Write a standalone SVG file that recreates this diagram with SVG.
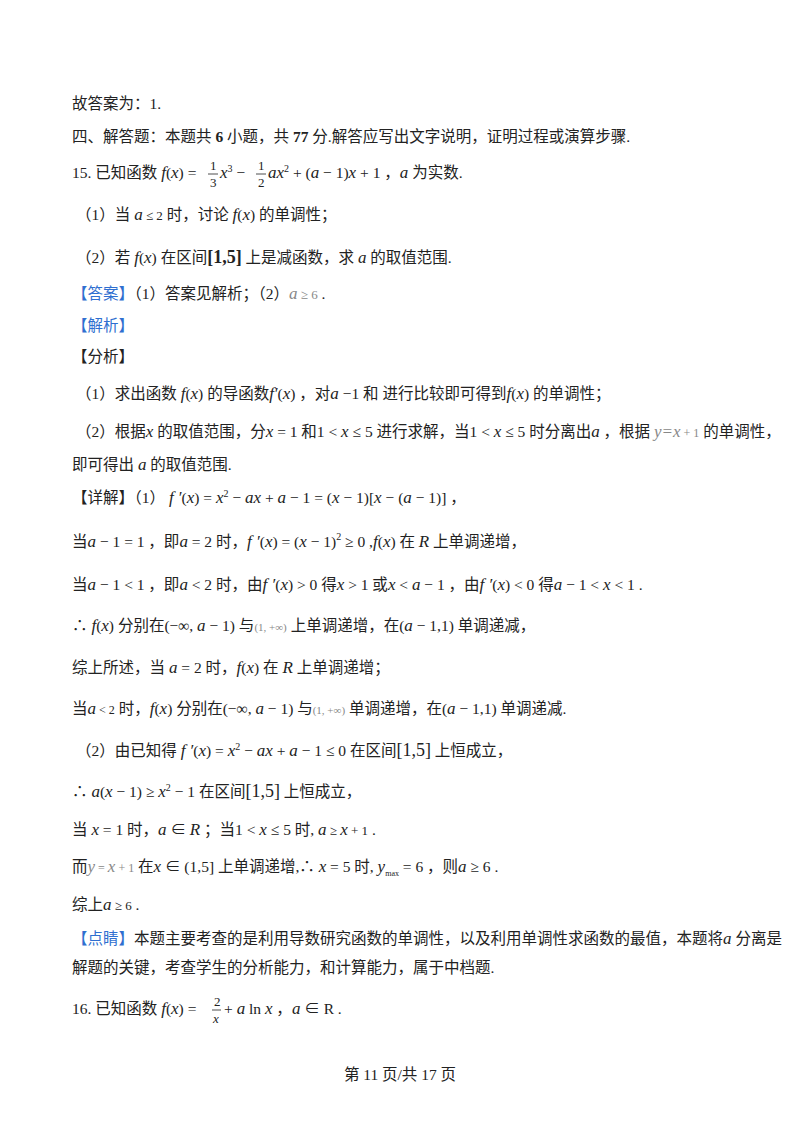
<svg xmlns="http://www.w3.org/2000/svg" width="800" height="1132" viewBox="0 0 800 1132">
<style>
text{font-family:"Liberation Serif","Noto Sans CJK SC",serif;font-size:15.5px;fill:#222}
.m{font-style:italic;font-family:"Liberation Serif",serif;font-size:17px}
.r{font-style:normal}
.b{font-weight:bold}
.bl{fill:#2f6fd0}
.g{fill:#888}
.f{font-size:13px}
</style>
<rect width="800" height="1132" fill="#fff"/>
<text x="72" y="109">故答案为：1.</text>
<text x="72" y="142">四、解答题：本题共 <tspan class="b">6</tspan> 小题，共 <tspan class="b">77</tspan> 分.解答应写出文字说明，证明过程或演算步骤.</text>
<text x="72" y="178">15. 已知函数 <tspan class="m">f</tspan>(<tspan class="m">x</tspan>) = </text>
<text x="210" y="170" class="f">1</text><text x="210" y="187" class="f">3</text>
<line x1="208" y1="174" x2="218" y2="174" stroke="#222" stroke-width="0.8"/>
<text x="220" y="178"><tspan class="m">x</tspan><tspan font-size="10" dy="-6">3</tspan><tspan dy="6"> − </tspan></text>
<text x="258" y="170" class="f">1</text><text x="258" y="187" class="f">2</text>
<line x1="256" y1="174" x2="266" y2="174" stroke="#222" stroke-width="0.8"/>
<text x="268" y="178"><tspan class="m">ax</tspan><tspan font-size="10" dy="-6">2</tspan><tspan dy="6"> + (</tspan><tspan class="m">a</tspan> − 1)<tspan class="m">x</tspan> + 1 ，<tspan class="m">a</tspan> 为实数.</text>
<text x="76" y="220">（1）当 <tspan class="m" font-size="13">a</tspan><tspan font-size="13"> ≤ 2</tspan>  时，讨论 <tspan class="m">f</tspan>(<tspan class="m">x</tspan>)  的单调性；</text>
<text x="76" y="263">（2）若 <tspan class="m">f</tspan>(<tspan class="m">x</tspan>) 在区间<tspan class="b" font-size="18">[1,5]</tspan>  上是减函数，求 <tspan class="m">a</tspan> 的取值范围.</text>
<text x="72" y="299"><tspan class="bl">【答案】</tspan>（1）答案见解析；（2）<tspan class="m g" font-size="13">a</tspan><tspan class="g" font-size="13"> ≥ 6</tspan>   .</text>
<text x="72" y="331" class="bl">【解析】</text>
<text x="72" y="362">【分析】</text>
<text x="76" y="399">（1）求出函数 <tspan class="m">f</tspan>(<tspan class="m">x</tspan>) 的导函数<tspan class="m">f′</tspan>(<tspan class="m">x</tspan>) ，对<tspan class="m">a</tspan> −1  和  进行比较即可得到<tspan class="m">f</tspan>(<tspan class="m">x</tspan>)   的单调性；</text>
<text x="76" y="437">（2）根据<tspan class="m" font-size="12">x</tspan> 的取值范围，分<tspan class="m">x</tspan> = 1 和1 &lt; <tspan class="m">x</tspan> ≤ 5  进行求解，当1 &lt; <tspan class="m">x</tspan> ≤ 5  时分离出<tspan class="m">a</tspan> ，根据 <tspan class="g" font-size="12"><tspan class="m">y=x</tspan> + 1</tspan>   的单调性，</text>
<text x="72" y="470">即可得出 <tspan class="m">a</tspan>  的取值范围.</text>
<text x="72" y="503">【详解】（1） <tspan class="m">f ′</tspan>(<tspan class="m">x</tspan>) = <tspan class="m">x</tspan><tspan font-size="10" dy="-6">2</tspan><tspan dy="6"> − </tspan><tspan class="m">ax</tspan> + <tspan class="m">a</tspan> − 1 = (<tspan class="m">x</tspan> − 1)[<tspan class="m">x</tspan> − (<tspan class="m">a</tspan> − 1)] ，</text>
<text x="72" y="547">当<tspan class="m">a</tspan> − 1 = 1 ，即<tspan class="m">a</tspan> = 2  时，<tspan class="m">f ′</tspan>(<tspan class="m">x</tspan>) = (<tspan class="m">x</tspan> − 1)<tspan font-size="10" dy="-7">2</tspan><tspan dy="7"> ≥ 0</tspan>  ,<tspan class="m">f</tspan>(<tspan class="m">x</tspan>)   在 <tspan class="m">R</tspan> 上单调递增，</text>
<text x="72" y="590">当<tspan class="m">a</tspan> − 1 &lt; 1 ，即<tspan class="m">a</tspan> &lt; 2  时，由<tspan class="m">f ′</tspan>(<tspan class="m">x</tspan>) &gt; 0  得<tspan class="m">x</tspan> &gt; 1  或<tspan class="m">x</tspan> &lt; <tspan class="m">a</tspan> − 1  ，由<tspan class="m">f ′</tspan>(<tspan class="m">x</tspan>) &lt; 0  得<tspan class="m">a</tspan> − 1 &lt; <tspan class="m">x</tspan> &lt; 1    .</text>
<text x="72" y="631">∴ <tspan class="m">f</tspan>(<tspan class="m">x</tspan>) 分别在(−∞, <tspan class="m">a</tspan> − 1) 与<tspan class="g" font-size="11">(1, +∞)</tspan>  上单调递增，在(<tspan class="m">a</tspan> − 1,1)  单调递减，</text>
<text x="72" y="673">综上所述，当 <tspan class="m">a</tspan> = 2  时，<tspan class="m">f</tspan>(<tspan class="m">x</tspan>)  在  <tspan class="m">R</tspan> 上单调递增；</text>
<text x="72" y="714">当<tspan class="m" font-size="12">a</tspan><tspan font-size="12"> &lt; 2</tspan>  时，<tspan class="m">f</tspan>(<tspan class="m">x</tspan>)  分别在(−∞, <tspan class="m">a</tspan> − 1)   与<tspan class="g" font-size="11">(1, +∞)</tspan>    单调递增，在(<tspan class="m">a</tspan> − 1,1)    单调递减.</text>
<text x="76" y="756">（2）由已知得 <tspan class="m">f ′</tspan>(<tspan class="m">x</tspan>) = <tspan class="m">x</tspan><tspan font-size="10" dy="-6">2</tspan><tspan dy="6"> − </tspan><tspan class="m">ax</tspan> + <tspan class="m">a</tspan> − 1 ≤ 0  在区间<tspan font-size="18">[1,5]</tspan>  上恒成立，</text>
<text x="72" y="797">∴ <tspan class="m">a</tspan>(<tspan class="m">x</tspan> − 1) ≥ <tspan class="m">x</tspan><tspan font-size="10" dy="-6">2</tspan><tspan dy="6"> − 1</tspan> 在区间<tspan font-size="18">[1,5]</tspan> 上恒成立，</text>
<text x="72" y="835">当 <tspan class="m">x</tspan> = 1  时，<tspan class="m">a</tspan> ∈ <tspan class="m">R</tspan>   ；当1 &lt; <tspan class="m">x</tspan> ≤ 5   时, <tspan class="m" font-size="13">a</tspan><tspan font-size="13"> ≥ </tspan><tspan class="m" font-size="13">x</tspan><tspan font-size="13"> + 1</tspan>    .</text>
<text x="72" y="872">而<tspan class="m g" font-size="12">y</tspan><tspan class="g" font-size="12"> = </tspan><tspan class="m g" font-size="12">x</tspan><tspan class="g" font-size="12"> + 1</tspan>  在<tspan class="m">x</tspan> ∈ (1,5]  上单调递增,∴ <tspan class="m">x</tspan> = 5   时, <tspan class="m">y</tspan><tspan font-size="8" dy="4">max</tspan><tspan dy="-4"> = 6</tspan>   ，则<tspan class="m">a</tspan> ≥ 6     .</text>
<text x="72" y="910">综上<tspan class="m" font-size="13">a</tspan><tspan font-size="13"> ≥ 6</tspan>   .</text>
<text x="72" y="944"><tspan class="bl">【点睛】</tspan>本题主要考查的是利用导数研究函数的单调性，以及利用单调性求函数的最值，本题将<tspan class="m">a</tspan> 分离是</text>
<text x="72" y="973">解题的关键，考查学生的分析能力，和计算能力，属于中档题.</text>
<text x="72" y="1014">16. 已知函数 <tspan class="m">f</tspan>(<tspan class="m">x</tspan>) = </text>
<text x="214" y="1006" class="f">2</text><text x="213" y="1023" class="f m" font-size="13">x</text>
<line x1="212" y1="1010" x2="221" y2="1010" stroke="#222" stroke-width="0.8"/>
<text x="224" y="1014"> + <tspan class="m">a</tspan> ln <tspan class="m">x</tspan> ，<tspan class="m">a</tspan> ∈ R     .</text>
<text x="400" y="1080" text-anchor="middle">第 11 页/共 17 页</text>
</svg>
